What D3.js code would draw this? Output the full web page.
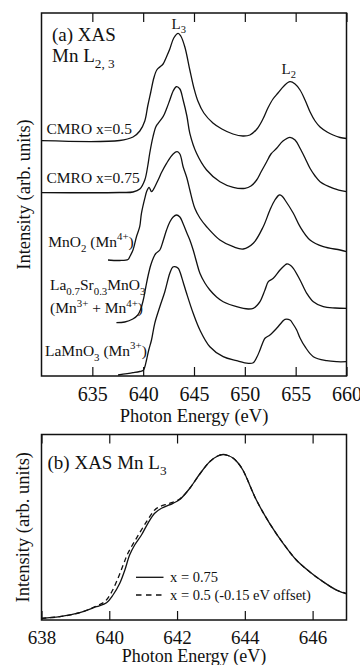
<!DOCTYPE html>
<html>
<head>
<meta charset="utf-8">
<script src="https://cdn.jsdelivr.net/npm/d3@7/dist/d3.min.js"></script>
<style>
  html, body { margin: 0; padding: 0; background: #fff; }
  svg { display: block; }
  text { font-family: "Liberation Serif", "Times New Roman", serif; fill: #111; }
</style>
</head>
<body>
<svg id="chart" width="360" height="665"></svg>
<script>
// ---------- (a) Mn L2,3 XAS spectra, vertically offset (arb. units) ----------
const cmro05E = [630.00, 637.69, 639.00, 639.67, 640.16, 640.45, 640.75, 641.05, 641.34, 641.64, 641.96, 642.33, 642.62, 643.01, 643.44, 643.70, 644.10, 644.59, 644.99, 645.38, 645.97, 646.86, 647.74, 648.83, 649.81, 650.50, 651.19, 651.78, 652.27, 652.77, 653.26, 653.85, 654.44, 654.94, 655.43, 655.92, 656.42, 656.91, 657.40, 658.09, 658.68, 659.37, 660.00];
const cmro05I = [235.3, 235.5, 239, 245, 255, 270, 284, 298, 306, 309, 312, 320, 327, 338, 342.7, 340, 329, 306, 288, 275, 263, 253, 247, 242, 240, 241, 247, 257, 268, 277, 283, 290, 294.3, 292, 286, 276, 264, 255, 249, 244, 241, 238.5, 237.5];

const cmro075E = [630.00, 637.69, 639.00, 639.67, 640.16, 640.45, 640.65, 640.97, 641.24, 641.47, 641.96, 642.33, 642.62, 642.95, 643.28, 643.61, 643.93, 644.30, 644.59, 645.25, 646.24, 647.55, 648.86, 650.01, 650.60, 651.16, 651.59, 652.15, 652.57, 653.13, 653.75, 654.44, 654.94, 655.43, 655.92, 656.41, 656.91, 657.40, 658.71, 660.00];
const cmro075I = [183.3, 183.5, 184, 187, 196, 210, 223, 239.3, 249, 252.7, 259.3, 268, 276, 285, 289.3, 287, 276, 260, 242.7, 222.7, 206, 194.3, 188.7, 187.7, 190, 196, 204, 214.3, 222, 227.7, 235, 238.7, 236, 227.7, 218, 207.7, 200, 194.3, 187.7, 184.3];

const mno2E = [636.54, 637.69, 638.51, 638.68, 639.00, 639.34, 639.66, 639.83, 640.16, 640.36, 640.58, 640.82, 640.98, 641.47, 641.83, 642.30, 642.95, 643.34, 643.61, 643.93, 644.30, 644.59, 645.08, 645.58, 646.24, 647.55, 648.86, 649.84, 650.83, 651.81, 652.47, 652.96, 653.39, 653.65, 653.95, 654.77, 655.43, 656.41, 657.72, 659.37, 660.00];
const mno2I = [116, 115.5, 116.5, 119.3, 126, 139.3, 149.3, 162.7, 177.7, 185, 188.7, 184.3, 186, 196, 204, 212.7, 222, 224.3, 222, 209.3, 198, 186, 167.7, 158, 149.3, 136, 129.3, 127, 132.7, 149.3, 166, 176, 181, 180, 176, 162.7, 149.3, 136, 129.3, 126, 124.3];

const lsmoE = [637.37, 638.19, 638.98, 639.47, 639.76, 640.01, 640.26, 640.50, 640.75, 641.00, 641.24, 641.64, 641.96, 642.30, 642.62, 642.95, 643.28, 643.61, 643.90, 644.30, 644.59, 644.92, 645.25, 645.58, 646.07, 646.56, 647.22, 647.87, 649.19, 650.34, 650.83, 651.19, 651.49, 651.98, 652.31, 652.80, 653.46, 653.85, 654.12, 654.44, 654.77, 655.43, 656.09, 656.74, 657.72, 658.88, 660.00];
const lsmoI = [53.3, 54, 57, 61, 67, 76, 89, 101, 111, 118, 122.5, 126, 135, 146, 154, 159, 161, 159, 153, 143, 136, 126, 114, 102.7, 93, 86, 79, 74.3, 69.3, 67, 67.7, 70.5, 74.3, 86, 94.3, 97.7, 106, 110, 112, 111, 107.7, 96, 82.7, 74.3, 69.3, 68, 67.7];

const lmoE = [637.53, 639.00, 639.66, 639.99, 640.16, 640.33, 640.55, 640.82, 641.14, 641.64, 642.13, 642.62, 642.92, 643.11, 643.44, 643.61, 643.93, 644.27, 644.92, 645.58, 646.56, 647.87, 649.19, 650.34, 650.83, 651.19, 651.49, 651.79, 651.98, 652.47, 653.13, 653.66, 653.95, 654.44, 654.74, 655.10, 655.43, 655.92, 656.74, 658.06, 659.05, 660.00];
const lmoI = [1, 3.3, 4.5, 5.5, 9, 16, 26, 36, 52.7, 69.3, 84.3, 102.7, 109, 109.3, 107.7, 104.3, 94, 82.7, 62.7, 46, 29.3, 19.3, 15.3, 12.7, 13.3, 19, 26, 34, 37.7, 41, 47.7, 54, 56.7, 56, 52, 46, 38, 29.3, 19.3, 15.3, 14.3, 14.3];

const ticksA = [635, 640, 645, 650, 655, 660];

// ---------- (b) Mn L3 edge, x = 0.75 vs x = 0.5 shifted by -0.15 eV ----------
const x075E = [638.00, 638.54, 639.13, 639.62, 639.92, 640.11, 640.31, 640.46, 640.60, 640.75, 640.95, 641.14, 641.34, 641.54, 641.88, 642.08, 642.37, 642.67, 642.97, 643.20, 643.36, 643.50, 643.65, 643.80, 643.95, 644.34, 644.73, 645.13, 645.52, 645.91, 646.31, 646.70, 647.00];
const x075I = [1.7, 3.3, 7.3, 13.3, 17.3, 25, 36.7, 50, 65, 75, 85, 96.7, 106.7, 111.7, 116.7, 120.5, 131.5, 146, 158.5, 164, 165.5, 164.5, 162, 157, 149.5, 120, 96.7, 76.7, 60, 48.3, 38.3, 30, 26];

const x05E = [638.00, 638.54, 639.13, 639.62, 639.87, 640.07, 640.26, 640.41, 640.55, 640.80, 641.10, 641.34, 641.49, 641.78, 642.08, 642.37, 642.67, 642.97, 643.20, 643.36, 643.50, 643.65, 643.80, 643.95, 644.34, 644.73, 645.13, 645.52, 645.91, 646.31, 646.70, 647.00];
const x05I = [1.7, 3.3, 7.3, 14, 18.5, 28, 42, 55, 66.7, 81.7, 98.3, 110, 113.3, 116.7, 121, 131.5, 146, 158.5, 164, 165.5, 164.5, 162, 157, 149.5, 120, 96.7, 76.7, 60, 48.3, 38.3, 30, 26.5];

const ticksB = [638, 640, 642, 644, 646];

const svg = d3.select("#chart");
const ink = "#111";

function zip(E, I) { return E.map((e, i) => [e, I[i]]); }

// ===== Panel (a) =====
const A = { left: 41.5, right: 346.5, top: 13, bottom: 376 };
const xA = d3.scaleLinear().domain([630, 660]).range([A.left, A.right]);
const yA = d3.scaleLinear().domain([0, 363]).range([A.bottom, A.top]);
const lineA = d3.line().x(d => xA(d[0])).y(d => yA(d[1])).curve(d3.curveCatmullRom.alpha(0.5));

const gA = svg.append("g");
[[cmro05E, cmro05I], [cmro075E, cmro075I], [mno2E, mno2I], [lsmoE, lsmoI], [lmoE, lmoI]].forEach(([E, I]) => {
  gA.append("path").datum(zip(E, I)).attr("d", lineA)
    .attr("fill", "none").attr("stroke", ink).attr("stroke-width", 1.3).attr("stroke-linejoin", "round");
});

// inward ticks on bottom and top edges
const axA = gA.append("g").attr("transform", `translate(0,${A.bottom})`)
  .call(d3.axisBottom(xA).tickValues(ticksA).tickSizeInner(-9).tickSizeOuter(0).tickPadding(0));
axA.select(".domain").remove();
axA.selectAll("line").attr("stroke", ink).attr("stroke-width", 1.2);
axA.selectAll("text").attr("dy", null).attr("y", 25).attr("font-size", 20).attr("fill", ink);
const axAt = gA.append("g").attr("transform", `translate(0,${A.top})`)
  .call(d3.axisTop(xA).tickValues(ticksA).tickSizeInner(-9).tickSizeOuter(0).tickFormat(""));
axAt.select(".domain").remove();
axAt.selectAll("line").attr("stroke", ink).attr("stroke-width", 1.2);

gA.append("rect").attr("x", A.left).attr("y", A.top).attr("width", A.right - A.left).attr("height", A.bottom - A.top)
  .attr("fill", "none").attr("stroke", ink).attr("stroke-width", 1.5);

gA.append("text").attr("x", (A.left + A.right) / 2).attr("y", 421.5).attr("text-anchor", "middle")
  .attr("font-size", 18.5).text("Photon Energy (eV)");
gA.append("text").attr("transform", `translate(30,${(A.top + A.bottom) / 2}) rotate(-90)`).attr("text-anchor", "middle")
  .attr("font-size", 18.5).text("Intensity (arb. units)");

// rich text helper: parts are [string, "n" | "sub" | "sup"]
function rich(g, x, y, size, parts) {
  const t = g.append("text").attr("x", x).attr("y", y).attr("font-size", size);
  let shift = 0;
  parts.forEach(([s, kind]) => {
    const small = size * 0.7;
    let target = 0;
    if (kind === "sub") target = size * 0.32;
    if (kind === "sup") target = -size * 0.42;
    t.append("tspan").attr("dy", target - shift).attr("font-size", kind === "n" ? size : small).text(s);
    shift = target;
  });
  return t;
}

rich(gA, 52, 40.5, 19, [["(a) XAS", "n"]]);
rich(gA, 52, 61.5, 19, [["Mn L", "n"], ["2, 3", "sub"]]);
rich(gA, 171.5, 28.5, 15, [["L", "n"], ["3", "sub"]]);
rich(gA, 281.5, 73.5, 15, [["L", "n"], ["2", "sub"]]);

rich(gA, 46.5, 133.5, 15.5, [["CMRO x=0.5", "n"]]);
rich(gA, 46.5, 182.7, 15.5, [["CMRO x=0.75", "n"]]);
rich(gA, 48.3, 246.7, 15.5, [["MnO", "n"], ["2", "sub"], [" (Mn", "n"], ["4+", "sup"], [")", "n"]]);
rich(gA, 50, 290, 15.5, [["La", "n"], ["0.7", "sub"], ["Sr", "n"], ["0.3", "sub"], ["MnO", "n"], ["3", "sub"]]);
rich(gA, 50, 313.3, 15.5, [["(Mn", "n"], ["3+", "sup"], [" + Mn", "n"], ["4+", "sup"], [")", "n"]]);
rich(gA, 45, 356, 15.5, [["LaMnO", "n"], ["3", "sub"], [" (Mn", "n"], ["3+", "sup"], [")", "n"]]);

// ===== Panel (b) =====
const B = { left: 41.5, right: 346.5, top: 434.5, bottom: 620 };
const xB = d3.scaleLinear().domain([638, 647]).range([B.left, B.right]);
const yB = d3.scaleLinear().domain([0, 185.5]).range([B.bottom, B.top]);
const lineB = d3.line().x(d => xB(d[0])).y(d => yB(d[1])).curve(d3.curveCatmullRom.alpha(0.5));

const gB = svg.append("g");
gB.append("path").datum(zip(x05E, x05I)).attr("d", lineB)
  .attr("fill", "none").attr("stroke", ink).attr("stroke-width", 1.3).attr("stroke-dasharray", "5,3.5");
gB.append("path").datum(zip(x075E, x075I)).attr("d", lineB)
  .attr("fill", "none").attr("stroke", ink).attr("stroke-width", 1.3);

const axB = gB.append("g").attr("transform", `translate(0,${B.bottom})`)
  .call(d3.axisBottom(xB).tickValues(ticksB).tickSizeInner(-9).tickSizeOuter(0).tickPadding(0));
axB.select(".domain").remove();
axB.selectAll("line").attr("stroke", ink).attr("stroke-width", 1.2);
axB.selectAll("text").attr("dy", null).attr("y", 24).attr("font-size", 19).attr("fill", ink);
const axBt = gB.append("g").attr("transform", `translate(0,${B.top})`)
  .call(d3.axisTop(xB).tickValues(ticksB).tickSizeInner(-9).tickSizeOuter(0).tickFormat(""));
axBt.select(".domain").remove();
axBt.selectAll("line").attr("stroke", ink).attr("stroke-width", 1.2);

gB.append("rect").attr("x", B.left).attr("y", B.top).attr("width", B.right - B.left).attr("height", B.bottom - B.top)
  .attr("fill", "none").attr("stroke", ink).attr("stroke-width", 1.5);

gB.append("text").attr("x", (B.left + B.right) / 2).attr("y", 662).attr("text-anchor", "middle")
  .attr("font-size", 18).text("Photon Energy (eV)");
gB.append("text").attr("transform", `translate(28.5,${(B.top + B.bottom) / 2}) rotate(-90)`).attr("text-anchor", "middle")
  .attr("font-size", 18.5).text("Intensity (arb. units)");

rich(gB, 47.5, 468.5, 19, [["(b) XAS Mn L", "n"], ["3", "sub"]]);

// legend
const legend = [
  { label: "x = 0.75", dash: null, y: 577.3 },
  { label: "x = 0.5 (-0.15 eV offset)", dash: "5.5,4.5", y: 595 }
];
legend.forEach(d => {
  gB.append("line").attr("x1", 136).attr("x2", 163.5).attr("y1", d.y).attr("y2", d.y)
    .attr("stroke", ink).attr("stroke-width", 1.3).attr("stroke-dasharray", d.dash);
  gB.append("text").attr("x", 170).attr("y", d.y + 5).attr("font-size", 14.5).text(d.label);
});
</script>
</body>
</html>
